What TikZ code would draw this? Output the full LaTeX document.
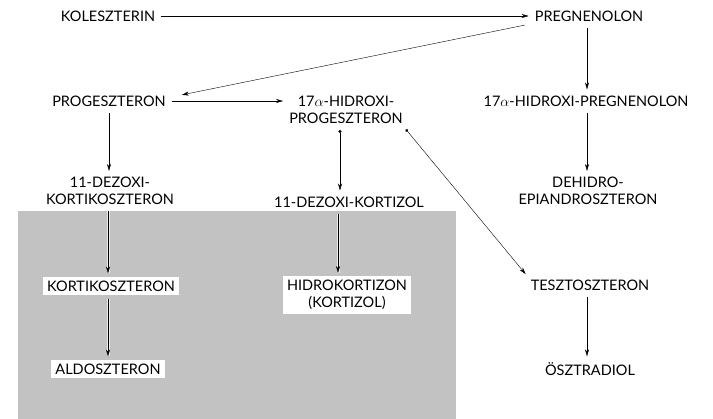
\documentclass[tikz,border=0pt]{standalone}
\usepackage{fontspec}
\setmainfont{Lato}
\usetikzlibrary{arrows.meta}
\begin{document}
\begin{tikzpicture}[x=1pt,y=-1pt,
  >={Stealth[length=7pt,width=4pt]},
  lbl/.style={font=\fontsize{14.5}{17}\selectfont, align=center, inner sep=3pt},
  clearbox/.style={lbl, fill=white, inner sep=4pt},
  link/.style={->, thin, shorten >=3pt, shorten <=3pt},
  halo/.style={link, preaction={draw=black!8, line width=3pt, -}},
  dotlink/.style={link, {Circle[length=3pt]}-{Stealth[length=7pt,width=4pt]}}]
\useasboundingbox (0,0) rectangle (713,419);

% shaded area
\fill[black!24] (18,211) rectangle (456,419);

% nodes
\node[lbl] (kol) at (108,16) {KOLESZTERIN};
\node[lbl] (preg) at (589,16) {PREGNENOLON};
\node[lbl] (prog) at (109,101) {PROGESZTERON};
\node[lbl] (hprog) at (346,110) {17$\alpha$-HIDROXI-\\PROGESZTERON};
\node[lbl] (hpreg) at (586,101) {17$\alpha$-HIDROXI-PREGNENOLON};
\node[lbl] (dkor) at (110,191) {11-DEZOXI-\\KORTIKOSZTERON};
\node[lbl] (dkort) at (349,202) {11-DEZOXI-KORTIZOL};
\node[lbl] (dhea) at (588,191) {DEHIDRO-\\EPIANDROSZTERON};
\node[clearbox] (kor) at (111,286) {KORTIKOSZTERON};
\node[clearbox] (hkort) at (347,295) {HIDROKORTIZON\\(KORTIZOL)};
\node[clearbox] (aldo) at (108,369) {ALDOSZTERON};
\node[lbl] (teszt) at (590,285) {TESZTOSZTERON};
\node[lbl] (oszt) at (590,369) {ÖSZTRADIOL};

% arrows
\draw[link] (kol) -- (preg);
\draw[link] ([xshift=-4pt]preg.south west) -- ([xshift=10pt,yshift=-3pt]prog.north east);
\draw[link] (prog) -- (hprog.west |- prog);
\draw[link] (preg.south -| 587,0) -- (hpreg.north -| 587,0);
\draw[link] (prog.south -| 109,0) -- (dkor.north -| 109,0);
\draw[dotlink] (hprog.south -| 340,0) -- (dkort.north -| 340,0);
\draw[dotlink] ([xshift=-2pt]hprog.south east) -- (teszt.north west);
\draw[link] (hpreg.south -| 587,0) -- (dhea.north -| 587,0);
\draw[halo] (dkor.south -| 108,0) -- (kor.north -| 108,0);
\draw[halo] (kor.south -| 108,0) -- (aldo.north -| 108,0);
\draw[halo] (dkort.south -| 338,0) -- (hkort.north -| 338,0);
\draw[link] (teszt.south -| 587,0) -- (oszt.north -| 587,0);
\end{tikzpicture}
\end{document}
